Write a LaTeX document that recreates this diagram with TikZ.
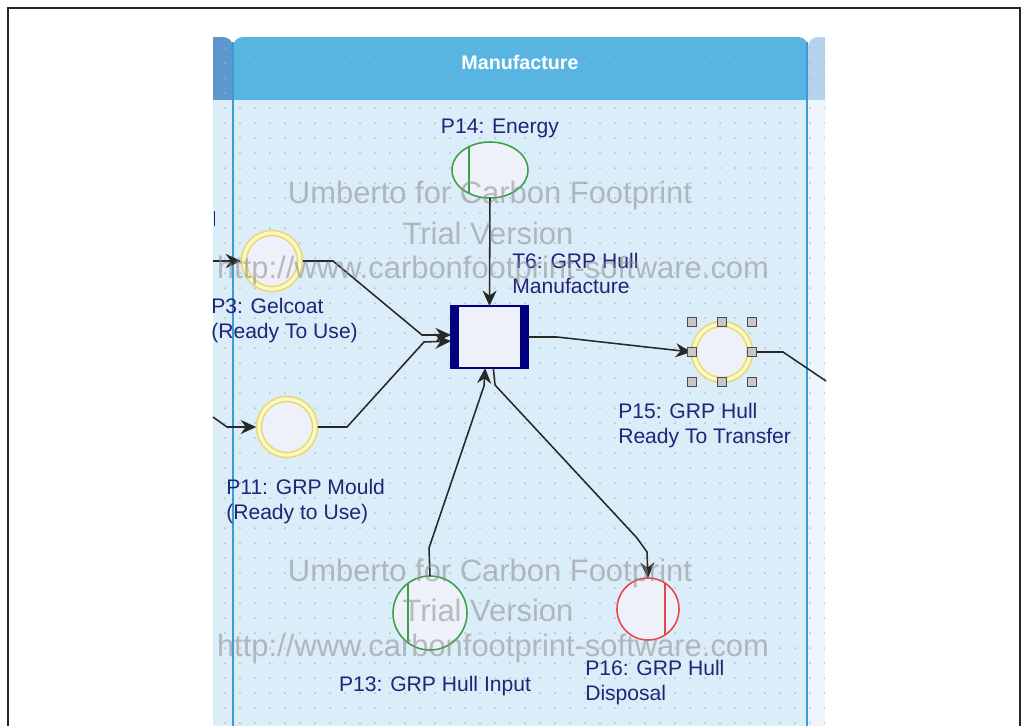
\documentclass[tikz,border=0pt]{standalone}
\usepackage{fontspec}
\setmainfont{Liberation Sans}
\usetikzlibrary{shapes, shapes.geometric}
\usetikzlibrary{arrows.meta}
\usetikzlibrary{calc}

\definecolor{lanebody}{RGB}{218,237,249}
\definecolor{laneheadc}{RGB}{88,181,226}
\definecolor{prevhead}{RGB}{92,152,205}
\definecolor{nexthead}{RGB}{182,210,236}
\definecolor{nextbody}{RGB}{237,244,251}
\definecolor{laneline}{RGB}{60,155,215}
\definecolor{griddot}{RGB}{165,180,194}
\definecolor{labelblue}{RGB}{35,35,120}
\definecolor{barblue}{RGB}{0,0,128}
\definecolor{placefill}{RGB}{238,240,250}
\definecolor{ringyellow}{RGB}{232,218,100}
\definecolor{ringcream}{RGB}{250,246,205}
\definecolor{srcgreen}{RGB}{60,160,70}
\definecolor{sinkred}{RGB}{232,70,70}
\definecolor{arcgray}{RGB}{40,40,40}
\definecolor{marktext}{RGB}{140,140,140}

\begin{document}
\begin{tikzpicture}[x=0.025cm, y=-0.025cm,
    lbl/.style={text=labelblue, font=\fontsize{15}{17.5}\selectfont, align=left, inner sep=0pt},
    wmark/.style={text=marktext, opacity=0.55, font=\fontsize{22}{24}\selectfont, inner sep=0pt},
    stock/.style={circle, draw=ringyellow, double=ringcream, double distance=2.4pt, line width=1.1pt,
        fill=placefill, minimum size=1.4cm, inner sep=0pt, outer sep=2pt},
    handlebox/.style={rectangle, draw=black!70, fill=black!22, line width=0.6pt, minimum size=0.225cm, inner sep=0pt},
    arc/.style={draw=arcgray, line width=1.1pt},
    flow/.style={arc, -{Stealth[length=11pt,width=10pt]}}]
    \useasboundingbox (0,0) rectangle (1028,725);
    % frame
    \draw[line width=1.5pt, black!85] (8,740) -- (8,8) -- (1020,8) -- (1020,740);
    % swim lanes
    \begin{scope}
        \clip (213,0) rectangle (825,725);
        \fill[prevhead, rounded corners=7] (180,37) rectangle (233,120);
        \fill[lanebody] (180,100) rectangle (233,730);
        \fill[laneheadc, rounded corners=7] (233,37) rectangle (808,120);
        \fill[lanebody] (233,100) rectangle (808,730);
        \fill[nexthead, rounded corners=7] (808,37) rectangle (870,120);
        \fill[nextbody] (808,100) rectangle (870,730);
        \foreach \x in {225,240,...,825}
            \foreach \y in {48,63,...,725}
                \fill[griddot, opacity=0.8] (\x,\y) circle (1);
        \draw[laneline, line width=2pt] (233,42) -- (233,730);
        \draw[laneline, line width=2pt] (807,42) -- (807,730);
    \end{scope}
    \node[text=white, font=\bfseries\fontsize{14}{16}\selectfont] (lanename) at (520,62) {Manufacture};
    \draw[labelblue, line width=1.4pt] (214.5,211) -- (214.5,226);

    % places and transition
    \node[ellipse, draw=srcgreen, line width=1.1pt, fill=placefill, minimum width=1.9cm, minimum height=1.4cm,
        inner sep=0pt, outer sep=0pt] (P14) at (490,170) {};
    \draw[srcgreen, line width=1.1pt] (P14.132) -- (P14.228);
    \node[stock] (P3) at (272,261) {};
    \node[stock] (P11) at (287,427) {};
    \node[stock] (P15) at (722,352) {};
    \node[rectangle, draw=barblue, line width=1pt, fill=placefill, minimum width=1.925cm, minimum height=1.55cm,
        inner sep=0pt, outer sep=0pt] (T6) at (489.5,337) {};
    \fill[barblue] (T6.north west) rectangle ($(T6.south west)+(8,0)$);
    \fill[barblue] ($(T6.north east)+(-8,0)$) rectangle (T6.south east);
    \node[circle, draw=srcgreen, line width=1.1pt, fill=placefill, minimum size=1.85cm, inner sep=0pt, outer sep=0pt]
        (P13) at (430,613) {};
    \draw[srcgreen, line width=1.1pt] (P13.126) -- (P13.234);
    \node[circle, draw=sinkred, line width=1.1pt, fill=placefill, minimum size=1.55cm, inner sep=0pt, outer sep=0pt]
        (P16) at (648,609) {};
    \draw[sinkred, line width=1.1pt] (P16.57) -- (P16.-57);

    % labels
    \node[lbl] (P14l) at (500,128) {P14: Energy};
    \node[lbl, anchor=north west] (P3l) at (211,298) {P3: Gelcoat\\(Ready To Use)};
    \node[lbl, anchor=north west] (P11l) at (226,479) {P11: GRP Mould\\(Ready to Use)};
    \node[lbl, anchor=north west] (T6l) at (512,253) {T6: GRP Hull\\Manufacture};
    \node[lbl, anchor=north west] (P15l) at (618,403) {P15: GRP Hull\\Ready To Transfer};
    \node[lbl] (P13l) at (435,686) {P13: GRP Hull Input};
    \node[lbl, anchor=north west] (P16l) at (585,660) {P16: GRP Hull\\Disposal};

    % connectors
    \coordinate (in3) at (213,261);
    \coordinate (in11) at (213,417);
    \coordinate (out15) at (826,381);
    \draw[flow] (in3) -- (P3.west);
    \draw[flow] (in11) -- (227,427) -- (P11.west);
    \draw[flow] (P14.south) -- (T6.north);
    \draw[flow] (P3.east) -- (333,261) -- (422,335) -- (T6.177);
    \draw[flow] (P11.east) -- (347,427) -- (424,342) -- (T6.186);
    \draw[flow] (P13.north) -- (429,548) -- (484,386) -- (T6.262);
    \draw[flow] (T6.277) -- (495,385) -- (637,538) -- (647,552) -- (P16.north);
    \draw[flow] (T6.east) -- (557,337) -- (P15.west);
    \draw[arc] (P15.east) -- (783,352) -- (out15);

    % selection handles
    \foreach \dx/\dy [count=\i] in {-30/-30,0/-30,30/-30,-30/0,30/0,-30/30,0/30,30/30}
        \node[handlebox] (h\i) at ($(P15)+(\dx,\dy)$) {};

    % trial watermark
    \node[wmark] (wm1) at (490,195) {Umberto for Carbon Footprint};
    \node[wmark] (wm2) at (488,233) {Trial Version};
    \node[wmark] (wm3) at (493,270) {http://www.carbonfootprint-software.com};
    \node[wmark] (wm4) at (490,573) {Umberto for Carbon Footprint};
    \node[wmark] (wm5) at (488,610) {Trial Version};
    \node[wmark] (wm6) at (493,648) {http://www.carbonfootprint-software.com};
\end{tikzpicture}
\end{document}
